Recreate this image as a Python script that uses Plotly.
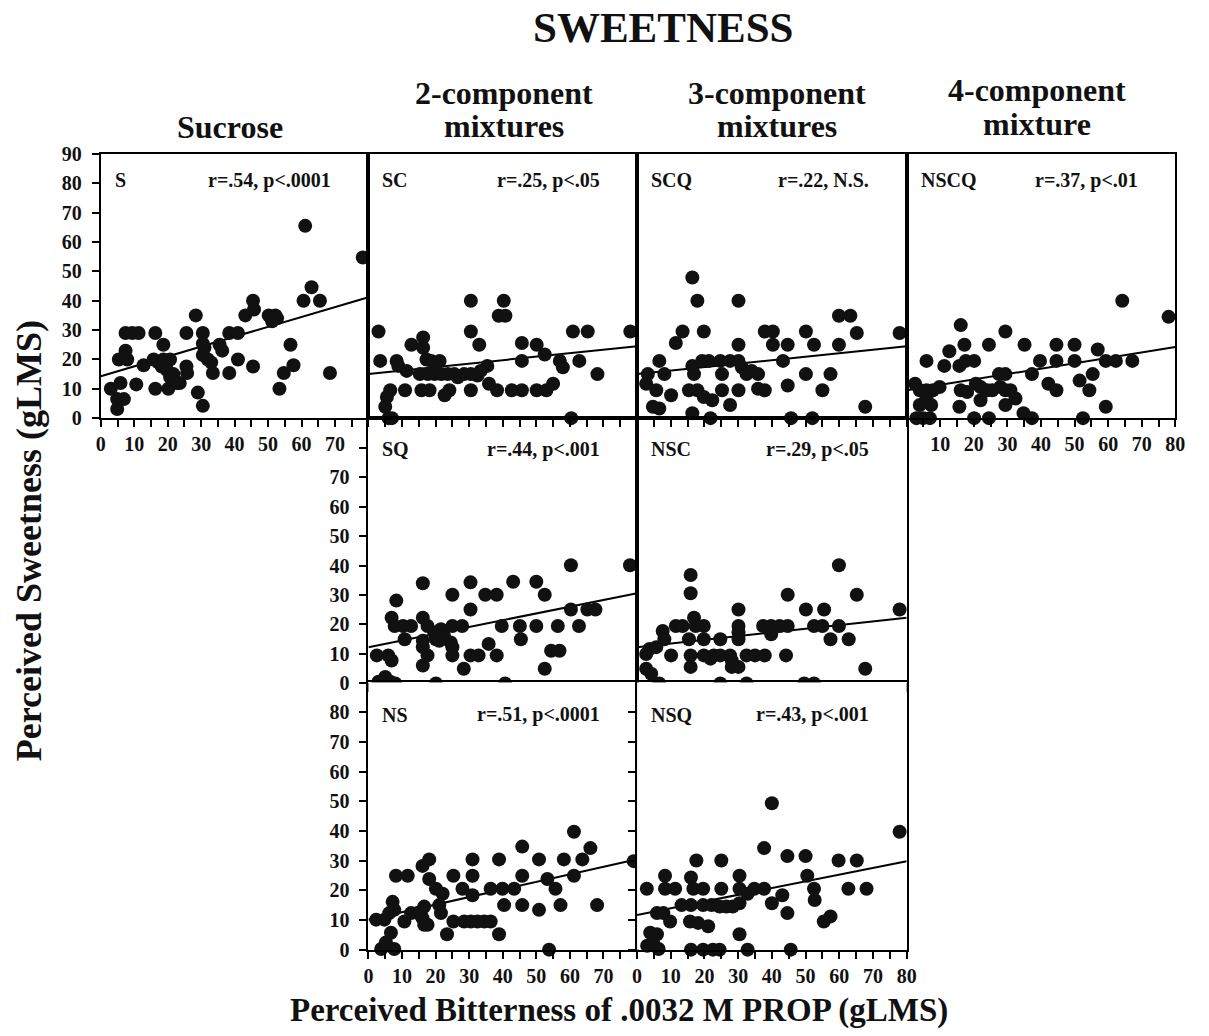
import plotly.graph_objects as go

# ---------------- DATA ----------------
PANELS = ["S", "SC", "SCQ", "NSCQ", "SQ", "NSC", "NS", "NSQ"]
STATS = ["r=.54, p<.0001", "r=.25, p<.05", "r=.22, N.S.", "r=.37, p<.01",
         "r=.44, p<.001", "r=.29, p<.05", "r=.51, p<.0001", "r=.43, p<.001"]
FIT_INTERCEPT = [14.3, 15.0, 15.0, 9.5, 12.3, 12.3, 10.1, 11.7]
FIT_SLOPE = [0.336, 0.119, 0.119, 0.184, 0.229, 0.125, 0.254, 0.226]

S_x = [3, 5.9, 4.9, 6.9, 4.9, 5.4, 7.9, 7.4, 7.4, 9.4, 11.3, 10.6, 12.8, 16.3, 16.3,
       15.8, 17.2, 18.7, 20.7, 18.7, 18.2, 19.7, 20.7, 21.7, 22.7, 23.6, 20.2, 25.6, 25.8, 25.6,
       28.4, 29, 30.5, 30.5, 30.5, 31, 30.5, 32, 33, 33.5, 35.5, 36.3, 38.4, 41, 38.4,
       41, 43.2, 45.5, 45.8, 45.5, 50.2, 52.2, 52.7, 51.2, 53.4, 54.7, 56.7, 57.6, 61.1, 60.6,
       63, 65.5, 68.5, 78.3]
S_y = [10, 12, 6.5, 6.5, 3.1, 20, 20, 23, 29, 29, 29, 11.5, 18, 29, 10,
       20, 19, 20, 20, 25, 17.6, 16.5, 14, 15, 12, 12, 10, 17.6, 15.4, 29,
       35, 8.7, 4.2, 29, 25.4, 24, 21.5, 20, 19, 15.4, 25, 23, 29, 29, 15.4,
       20, 35, 40, 37, 17.6, 35, 35, 34, 33, 10, 15.4, 25, 18, 65.5, 40,
       44.6, 40, 15.4, 54.7]

SC_x = [3.0, 3.5, 8.4, 8.9, 11.4, 6.5, 5.5, 5, 6, 7, 10.9, 12.8, 16.3, 16.3, 17.3,
        18.7, 21.2, 15.3, 17.7, 19.7, 21.7, 23.6, 15.8, 18.2, 22.7, 24.1, 25.6, 26.6, 28.5, 30.5,
        32.5, 33.4, 35.4, 30.5, 30.5, 30.5, 33, 35.9, 38.3, 40.3, 38.8, 40.8, 42.7, 45.7, 45.7,
        45.7, 50.1, 52.5, 50.1, 53, 55, 57, 57.9, 60.9, 65.3, 62.8, 60.4, 68.2, 78]
SC_y = [29.5, 19.5, 19.5, 17.8, 16.1, 9.5, 7.2, 3.9, 0, 0, 9.5, 25, 27.5, 24, 20,
        19.5, 19.5, 15, 15, 15, 15, 15, 9.5, 9.5, 7.8, 9.5, 15, 13.9, 15, 15,
        14.5, 16.1, 17.8, 9.5, 40, 29.5, 25, 11.7, 9.5, 40, 34.9, 34.9, 9.5, 9.5, 25.6,
        19.5, 25, 21.7, 9.5, 9.5, 11.7, 19.5, 17.3, 29.5, 29.5, 19.5, 0, 15, 29.5]

SCQ_x = [3.2, 2.7, 5.7, 4.7, 6.6, 6.6, 8.1, 10.1, 11.5, 13.5, 16.4, 17.9, 19.8, 16.4, 16.9,
         19.3, 21.3, 15.4, 17.9, 19.8, 22.3, 16.4, 21.8, 24.7, 25.2, 25.2, 27.6, 30.1, 30.1, 27.6,
         30.1, 31.1, 32.5, 34, 35.9, 30.1, 35.9, 37.9, 37.9, 40.3, 40.3, 43.3, 44.7, 44.7, 45.7,
         50.1, 50.1, 52.5, 52, 55, 57.4, 59.9, 59.9, 63.3, 65.2, 67.7, 77.9]
SCQ_y = [15, 11.7, 9.5, 3.9, 3.3, 19.5, 15, 7.8, 25.6, 29.5, 47.9, 40, 29.5, 17.8, 15,
         19.5, 19.5, 9.5, 9.5, 7.2, 6.1, 1.7, 0, 19.5, 15, 9.5, 4.5, 40, 25, 19.5,
         19.5, 17.3, 15, 16.1, 15, 9.5, 10, 9.5, 29.5, 29.5, 25, 19.5, 25, 11.1, 0,
         29.5, 15, 25, 0, 9.5, 15, 25, 34.9, 34.9, 29, 3.9, 29]

NSCQ_x = [2.5, 3.9, 5.9, 7.8, 9.8, 3.9, 7.3, 5.9, 2.9, 4.9, 6.9, 5.9, 11.2, 12.7, 16.1,
          17.2, 15.7, 17.6, 20.1, 16.1, 18, 20.6, 22, 15.7, 22, 20.1, 24.5, 24.5, 24, 25.5,
          27.5, 29.4, 29.4, 27.9, 29.4, 30.9, 32.4, 29.4, 35.1, 37.3, 34.8, 37.3, 39.7, 42.2, 44.6,
          44.6, 44.6, 50, 50, 51.5, 55.4, 54.4, 52.5, 56.9, 59.3, 62.3, 59.3, 64.2, 67.2, 78]
NSCQ_y = [11.7, 9.5, 9.5, 9.5, 10.6, 4.5, 4.5, 7.2, 0, 0, 0, 19.5, 17.8, 22.8, 31.7,
          25, 17.8, 19.5, 19.5, 9.5, 8.9, 11.7, 10.6, 3.9, 6.1, 0, 0, 25, 9.5, 9.5,
          15, 15, 29.5, 10.6, 9.5, 9.5, 6.7, 4.5, 25, 15, 1.7, 0, 19.5, 11.7, 9.5,
          25, 19.5, 25, 19.5, 12.8, 15, 9.5, 0, 23.4, 19.5, 19.5, 3.9, 40, 19.5, 34.5]

SQ_x = [2.5, 5.9, 6.9, 3, 5, 6.5, 8, 8.3, 6.9, 7.8, 10.3, 12.7, 10.8, 16.2, 16.2,
        17.6, 16.2, 16.2, 17.6, 16.2, 19.6, 21.6, 22.5, 24.5, 25, 20.1, 21.1, 20.1, 25, 25,
        27.9, 25, 28.4, 30.4, 30.4, 30.4, 32.8, 35.8, 34.8, 38.2, 38.2, 39.7, 40.7, 43.1, 45.1,
        45.4, 50, 52.5, 50, 52.5, 54.4, 56.9, 56.4, 60.3, 60.3, 62.7, 65.2, 67.6, 77.9]
SQ_y = [9.5, 9.5, 7.8, 0.6, 2.2, 0.6, 0, 28.1, 22.3, 19.5, 19.5, 19.5, 15, 34, 22.3,
        19.5, 14.5, 12.3, 9.5, 6.1, 17.3, 18.4, 16.2, 13.9, 12.3, 15, 14.5, 0, 30.1, 19.5,
        19.5, 9.5, 5, 34.3, 25.1, 9.5, 9.5, 13.4, 30.1, 30.1, 9.5, 19.5, 0, 34.5, 19.5,
        15, 34.5, 30.1, 19.5, 5, 11.1, 11.1, 19.5, 40.1, 25.1, 19.5, 25.1, 25.1, 40.1]

NSC_x = [2.7, 3.7, 5.7, 2.7, 4.2, 6.6, 7.6, 8.1, 10.1, 11.5, 13.5, 15.9, 15.9, 16.9, 17.4,
         19.8, 15.4, 19.8, 15.9, 15.9, 19.8, 21.8, 22.8, 24.7, 27.6, 28.1, 24.7, 24.7, 28.1, 30.1,
         30.1, 30.1, 30.1, 30.1, 32.5, 35, 37.9, 32.5, 37.4, 39.8, 39.8, 42.3, 44.7, 44.7, 44.2,
         50.1, 49.6, 52.5, 52.5, 55, 55.5, 57.4, 59.9, 59.9, 62.8, 65.2, 67.7, 77.9]
NSC_y = [10, 11.7, 12.3, 5, 3.3, 0, 17.8, 15, 9.5, 19.5, 19.5, 36.8, 30.6, 22.3, 19.5,
         19.5, 15, 15, 9.5, 5.6, 9.5, 8.4, 9.5, 9.5, 9.5, 7.8, 15, 0, 5.6, 5.6,
         25.1, 19.5, 17.3, 15, 9.5, 9.5, 9.5, 0, 19.5, 19.5, 16.7, 19.5, 19.5, 30.1, 9.5,
         25.1, 0, 0, 19.5, 19.5, 25.1, 15, 40.1, 19.5, 15, 30.1, 5, 25.1]

NS_x = [2.3, 4.75, 3.8, 5.2, 6.7, 7.7, 7.2, 7.7, 6.2, 8.2, 11.7, 10.7, 12.7, 14.7, 15.6,
        16.6, 16.1, 16.6, 17.6, 16.1, 18.1, 18.1, 20.1, 22.1, 21.1, 21.6, 23.4, 25.3, 25.3, 28,
        31, 31, 31, 28.5, 30.5, 32.5, 34.5, 36.4, 36.4, 38.9, 38.9, 39.9, 43.4, 40.4, 45.8,
        45.8, 45.8, 50.8, 50.8, 53.3, 55.7, 53.8, 57.2, 58.2, 61.2, 61.2, 63.7, 66.1, 68.1, 79]
NS_y = [10.1, 10.1, 0.2, 2.4, 5.7, 0.2, 16.1, 13.4, 12.3, 24.9, 24.9, 9.5, 12.3, 12.3, 12.8,
        14.5, 10.6, 8.4, 8.4, 28.2, 30.4, 23.8, 20.5, 18.8, 15, 12.3, 5.2, 24.9, 9.5, 20.5,
        18.3, 30.4, 24.9, 9.5, 9.5, 9.5, 9.5, 9.5, 20.5, 30.4, 5.2, 20.5, 20.5, 15, 34.7,
        24.9, 15, 30.4, 13.4, 23.8, 20.5, 0, 15, 30.4, 39.7, 24.9, 30.4, 34.2, 15, 29.8]

NSQ_x = [2.9, 3, 3.9, 5.9, 4.9, 6.4, 5.9, 7.8, 9.8, 8.3, 8.3, 11.3, 13.2, 16, 16,
         16.7, 19.6, 17.6, 15.7, 18.1, 21.1, 16, 19.6, 22.5, 24.5, 19.6, 22.1, 24.5, 26.5, 28.4,
         30.4, 25, 25, 30.4, 30.4, 32.8, 34.8, 37.7, 30.4, 32.8, 37.7, 40, 40, 43.1, 44.6,
         44.6, 45.6, 50, 50.5, 52.5, 52.7, 55.4, 57.4, 59.8, 62.7, 65.2, 68.1, 77.9]
NSQ_y = [20.5, 1.3, 5.7, 5.2, 1.9, 0.2, 12.3, 12.3, 9.5, 24.9, 20.5, 20.5, 15, 15, 24.3,
         20.5, 20.5, 30, 9.5, 9, 7.9, 0, 0, 0, 0, 15, 15, 14.5, 14.5, 14.5,
         15.6, 30, 20.5, 24.9, 20.5, 18.8, 20.5, 20.5, 5.2, 0, 34.2, 49.3, 15.6, 18.3, 31.5,
         12.3, 0, 31.5, 24.9, 20.5, 16.7, 9.5, 11.2, 30, 20.5, 30, 20.5, 39.7]

X_DATA = [S_x, SC_x, SCQ_x, NSCQ_x, SQ_x, NSC_x, NS_x, NSQ_x]
Y_DATA = [S_y, SC_y, SCQ_y, NSCQ_y, SQ_y, NSC_y, NS_y, NSQ_y]

X_RANGE = [0, 80]
Y_RANGE = [0, 90]
X_TICKS = list(range(0, 81, 5))
Y_TICKS = list(range(0, 91, 10))

COLUMN_HEADERS = [["Sucrose"], ["2-component", "mixtures"],
                  ["3-component", "mixtures"], ["4-component", "mixture"]]
TITLE = "SWEETNESS"
Y_TITLE = "Perceived Sweetness (gLMS)"
X_TITLE = "Perceived Bitterness of .0032 M PROP (gLMS)"

# ---------------- LAYOUT ----------------
W, H = 1209, 1036
FONT = "Liberation Serif"
INK = "#111111"


def fx(p):
    return p / W


def fy(p):
    return 1 - p / H


COLS = [(97, 368), (368, 640), (640, 913), (913, 1185)]
ROWS = [(146, 416), (416, 687), (686, 959)]
# panel -> (col, row)
GRID = [(0, 0), (1, 0), (2, 0), (3, 0), (1, 1), (2, 1), (1, 2), (2, 2)]

# which x tick labels are shown (min, max) and y tick mode for each panel
XLAB = {0: (0, 70), 3: (10, 80), 6: (0, 70), 7: (0, 80)}
YLAB = {0: (90, 90), 4: (80, 70), 6: (80, 80), 7: (80, None)}
LABEL_Y = [173, 173, 173, 173, 448, 448, 719, 719]

fig = go.Figure()
layout = dict(
    width=W, height=H, autosize=False,
    margin=dict(l=0, r=0, t=0, b=0),
    paper_bgcolor="white", plot_bgcolor="white",
    showlegend=False,
    font=dict(family=FONT, color=INK, size=20, weight="bold"),
)
annotations = []
tfont = dict(family=FONT, size=20, color=INK, weight="bold")

for i, name in enumerate(PANELS):
    c, r = GRID[i]
    n = i + 1
    xa = "xaxis" if n == 1 else f"xaxis{n}"
    ya = "yaxis" if n == 1 else f"yaxis{n}"
    xr = "x" if n == 1 else f"x{n}"
    yr = "y" if n == 1 else f"y{n}"

    xd = [fx(COLS[c][0]), fx(COLS[c][1])]
    yd = [fy(ROWS[r][1]), fy(ROWS[r][0])]

    if i in XLAB:
        lo, hi = XLAB[i]
        xtext = [str(v) if (v % 10 == 0 and lo <= v <= hi) else "" for v in X_TICKS]
    else:
        xtext = ["" for v in X_TICKS]

    common = dict(showline=True, linecolor="black", linewidth=2, mirror=True,
                  showgrid=False, zeroline=False, fixedrange=True,
                  tickcolor="black", tickwidth=2, ticklen=7,
                  tickfont=tfont)
    layout[xa] = dict(common, domain=xd, anchor=yr, range=X_RANGE,
                      tickmode="array", tickvals=X_TICKS, ticktext=xtext, ticks="outside")

    if i in YLAB:
        tmax, lmax = YLAB[i]
        yv = [v for v in Y_TICKS if v <= tmax]
        yt = [str(v) if (lmax is not None and v <= lmax) else "" for v in yv]
        ticks = "outside"
    else:
        yv, yt, ticks = [], [], ""
    layout[ya] = dict(common, domain=yd, anchor=xr, range=Y_RANGE,
                      tickmode="array", tickvals=yv, ticktext=yt, ticks=ticks,
                      ticklabelstandoff=6)

    # regression line
    a, b = FIT_INTERCEPT[i], FIT_SLOPE[i]
    fig.add_trace(go.Scatter(x=X_RANGE, y=[a + b * X_RANGE[0], a + b * X_RANGE[1]],
                             mode="lines", line=dict(color="black", width=2),
                             xaxis=xr, yaxis=yr, hoverinfo="skip"))
    # points
    fig.add_trace(go.Scatter(x=X_DATA[i], y=Y_DATA[i], mode="markers",
                             marker=dict(size=14, color=INK, line=dict(width=0)),
                             cliponaxis=False, xaxis=xr, yaxis=yr))

    # panel label and stats
    annotations.append(dict(text=name, x=fx(COLS[c][0] + 12), y=fy(LABEL_Y[i]),
                            xref="paper", yref="paper", xanchor="left", yanchor="middle",
                            showarrow=False, font=tfont))
    annotations.append(dict(text=STATS[i], x=fx(COLS[c][1] - 36), y=fy(LABEL_Y[i]),
                            xref="paper", yref="paper", xanchor="right", yanchor="middle",
                            showarrow=False, font=tfont))

# title
annotations.append(dict(text=TITLE, x=fx(667), y=fy(17), xref="paper", yref="paper",
                        xanchor="center", yanchor="middle", showarrow=False,
                        font=dict(family=FONT, size=43, color=INK, weight="bold")))
# column headers
HEAD_X = [228, 505, 782, 1045]
HEAD_Y = [[119], [84, 118], [84, 118], [81, 115]]
for c, lines in enumerate(COLUMN_HEADERS):
    for j, t in enumerate(lines):
        annotations.append(dict(text=t, x=fx(HEAD_X[c]), y=fy(HEAD_Y[c][j]),
                                xref="paper", yref="paper", xanchor="center", yanchor="middle",
                                showarrow=False,
                                font=dict(family=FONT, size=32, color=INK, weight="bold")))
# axis titles
annotations.append(dict(text=Y_TITLE, x=fx(24), y=fy(541), xref="paper", yref="paper",
                        xanchor="center", yanchor="middle", textangle=-90, showarrow=False,
                        font=dict(family=FONT, size=36, color=INK, weight="bold")))
annotations.append(dict(text=X_TITLE, x=fx(622), y=fy(1021), xref="paper", yref="paper",
                        xanchor="center", yanchor="middle", showarrow=False,
                        font=dict(family=FONT, size=33, color=INK, weight="bold")))

layout["annotations"] = annotations
fig.update_layout(**layout)

for xs, ys in zip(X_DATA, Y_DATA):
    assert len(xs) == len(ys)

fig.write_html("out.html")
